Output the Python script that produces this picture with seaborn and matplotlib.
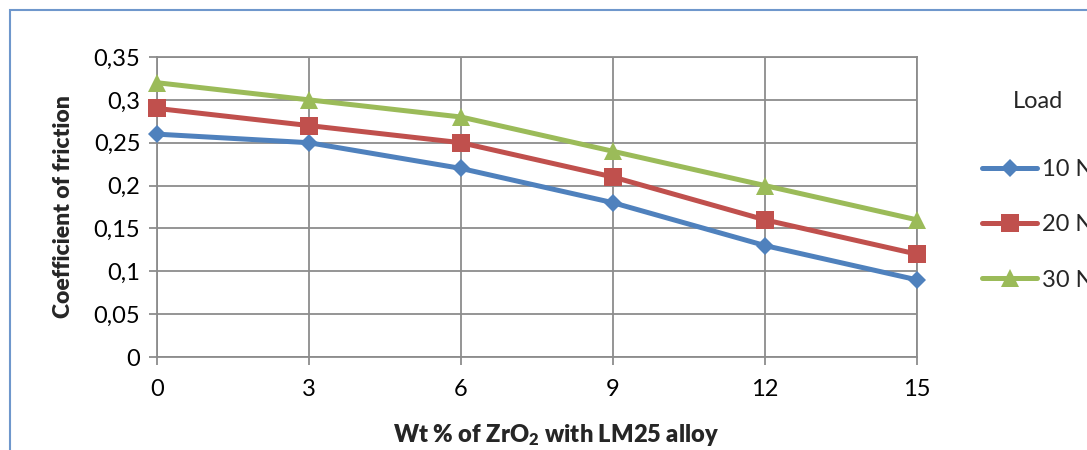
import matplotlib
matplotlib.use("Agg")
import matplotlib.pyplot as plt
import seaborn as sns
import pandas as pd
from matplotlib.patches import Rectangle

wt = [0, 3, 6, 9, 12, 15]
cof_10N = [0.26, 0.25, 0.22, 0.18, 0.13, 0.09]
cof_20N = [0.29, 0.27, 0.25, 0.21, 0.16, 0.12]
cof_30N = [0.32, 0.30, 0.28, 0.24, 0.20, 0.16]
loads = ["10 N", "20 N", "30 N"]
y_ticks = [0, 0.05, 0.1, 0.15, 0.2, 0.25, 0.3, 0.35]
y_tick_labels = ["0", "0,05", "0,1", "0,15", "0,2", "0,25", "0,3", "0,35"]

colors = ["#4F81BD", "#C0504D", "#9BBB59"]
markers = ["D", "s", "^"]
msizes = [9.5, 13, 13.5]

sns.set_theme(style="white")
plt.rcParams["font.family"] = ["Lato", "DejaVu Sans"]
plt.rcParams["mathtext.fontset"] = "custom"
plt.rcParams["mathtext.bf"] = "Lato:heavy"
plt.rcParams["mathtext.rm"] = "Lato"

fig = plt.figure(figsize=(10.87, 4.5), dpi=100)
ax = fig.add_axes([157/1087, 1-357/450, (917-157)/1087, 300/450])

df = pd.DataFrame({
    "wt": wt * 3,
    "cof": cof_10N + cof_20N + cof_30N,
    "Load": [l for l in loads for _ in wt],
})

for i, load in enumerate(loads):
    sub = df[df["Load"] == load]
    sns.lineplot(data=sub, x="wt", y="cof", ax=ax, color=colors[i],
                 marker=markers[i], markersize=msizes[i], markeredgewidth=0,
                 linewidth=3.6, label=load, clip_on=False, zorder=3 + i)

ax.set_xlim(0, 15)
ax.set_ylim(0, 0.35)
ax.set_xticks(wt)
ax.set_xticklabels([str(v) for v in wt])
ax.set_yticks(y_ticks)
ax.set_yticklabels(y_tick_labels)
ax.grid(True, color="#8C8C8C", linewidth=1.3)
for s in ax.spines.values():
    s.set_color("#8C8C8C")
    s.set_linewidth(1.3)
ax.tick_params(axis="both", which="both", direction="out", length=6, width=1.3,
               color="#8C8C8C", labelsize=17, labelcolor="black",
               bottom=True, left=True, pad=6)
ax.tick_params(axis="x", pad=10)
ax.set_xlabel(r"Wt % of ZrO$\mathbf{_2}$ with LM25 alloy", fontsize=17,
              fontweight="heavy", labelpad=14)
ax.xaxis.set_label_coords((556 - 157) / 760, -0.2)
ax.xaxis.label.set_verticalalignment("center")
ax.xaxis.set_label_coords((556 - 157) / 760, -(435 - 357) / 300)
ax.set_ylabel("Coefficient of friction", fontsize=16.5, fontweight="heavy",
              labelpad=14)

handles, labels = ax.get_legend_handles_labels()
leg = ax.legend(handles, labels, title="Load", loc="upper left",
                bbox_to_anchor=(982/1087, 1-91/450), bbox_transform=fig.transFigure,
                frameon=False, fontsize=17, title_fontsize=17,
                handlelength=2.35, handletextpad=0.2, labelspacing=1.45,
                borderpad=0, borderaxespad=0)
leg._legend_box.sep = 34

fig.patches.append(Rectangle((10/1087, -0.2), 1.5, 1.2 - 10/450,
                             transform=fig.transFigure, fill=False,
                             edgecolor="#6F97CC", linewidth=1.5))

fig.savefig("out.png", dpi=100)
